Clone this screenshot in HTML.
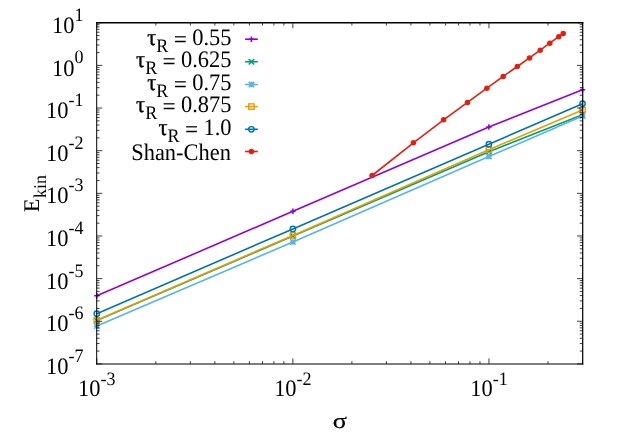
<!DOCTYPE html>
<html><head><meta charset="utf-8"><title>plot</title>
<style>
html,body{margin:0;padding:0;background:#fff;}
body{width:623px;height:436px;overflow:hidden;}
svg{display:block;will-change:transform;}
text{font-family:"Liberation Serif",serif;fill:#000;text-rendering:geometricPrecision;}
</style></head><body>
<svg width="623" height="436" viewBox="0 0 623 436">
<rect x="0" y="0" width="623" height="436" fill="#ffffff"/>
<g stroke-linejoin="round" stroke-linecap="butt">
<polyline points="96.80,295.80 292.90,211.30 488.90,127.00 582.50,89.70" fill="none" stroke="#9400d3" stroke-width="1.60"/>
<path d="M94.10 295.80H99.50M96.80 293.10V298.50" stroke="#9400d3" stroke-width="1.60" fill="none"/>
<path d="M290.20 211.30H295.60M292.90 208.60V214.00" stroke="#9400d3" stroke-width="1.60" fill="none"/>
<path d="M486.20 127.00H491.60M488.90 124.30V129.70" stroke="#9400d3" stroke-width="1.60" fill="none"/>
<path d="M579.80 89.70H585.20M582.50 87.00V92.40" stroke="#9400d3" stroke-width="1.60" fill="none"/>
<polyline points="96.80,320.40 292.90,236.10 488.90,151.80 582.50,114.70" fill="none" stroke="#009e73" stroke-width="1.60"/>
<path d="M94.10 317.70L99.50 323.10M94.10 323.10L99.50 317.70" stroke="#009e73" stroke-width="1.60" fill="none"/>
<path d="M290.20 233.40L295.60 238.80M290.20 238.80L295.60 233.40" stroke="#009e73" stroke-width="1.60" fill="none"/>
<path d="M486.20 149.10L491.60 154.50M486.20 154.50L491.60 149.10" stroke="#009e73" stroke-width="1.60" fill="none"/>
<path d="M579.80 112.00L585.20 117.40M579.80 117.40L585.20 112.00" stroke="#009e73" stroke-width="1.60" fill="none"/>
<polyline points="96.80,326.10 292.90,242.00 488.90,156.60 582.50,116.10" fill="none" stroke="#56b4e9" stroke-width="1.60"/>
<path d="M94.10 323.40L99.50 328.80M94.10 328.80L99.50 323.40M94.10 326.10H99.50M96.80 323.40V328.80" stroke="#56b4e9" stroke-width="1.60" fill="none"/>
<path d="M290.20 239.30L295.60 244.70M290.20 244.70L295.60 239.30M290.20 242.00H295.60M292.90 239.30V244.70" stroke="#56b4e9" stroke-width="1.60" fill="none"/>
<path d="M486.20 153.90L491.60 159.30M486.20 159.30L491.60 153.90M486.20 156.60H491.60M488.90 153.90V159.30" stroke="#56b4e9" stroke-width="1.60" fill="none"/>
<path d="M579.80 113.40L585.20 118.80M579.80 118.80L585.20 113.40M579.80 116.10H585.20M582.50 113.40V118.80" stroke="#56b4e9" stroke-width="1.60" fill="none"/>
<polyline points="96.80,320.30 292.90,235.40 488.90,149.70 582.50,109.90" fill="none" stroke="#e69f00" stroke-width="1.60"/>
<rect x="94.10" y="317.60" width="5.40" height="5.40" stroke="#e69f00" stroke-width="1.40" fill="none"/>
<rect x="290.20" y="232.70" width="5.40" height="5.40" stroke="#e69f00" stroke-width="1.40" fill="none"/>
<rect x="486.20" y="147.00" width="5.40" height="5.40" stroke="#e69f00" stroke-width="1.40" fill="none"/>
<rect x="579.80" y="107.20" width="5.40" height="5.40" stroke="#e69f00" stroke-width="1.40" fill="none"/>
<polyline points="96.80,313.70 292.90,228.90 488.90,144.20 582.50,103.70" fill="none" stroke="#0072b2" stroke-width="1.60"/>
<circle cx="96.80" cy="313.70" r="2.7" stroke="#0072b2" stroke-width="1.40" fill="none"/>
<circle cx="292.90" cy="228.90" r="2.7" stroke="#0072b2" stroke-width="1.40" fill="none"/>
<circle cx="488.90" cy="144.20" r="2.7" stroke="#0072b2" stroke-width="1.40" fill="none"/>
<circle cx="582.50" cy="103.70" r="2.7" stroke="#0072b2" stroke-width="1.40" fill="none"/>
<polyline points="372.10,175.50 413.40,142.80 443.60,119.80 467.50,102.40 486.90,88.20 503.20,76.40 517.30,66.50 529.50,57.90 540.20,50.20 549.80,43.20 558.80,36.70 563.20,33.50" fill="none" stroke="#e51e10" stroke-width="1.60"/>
<circle cx="372.10" cy="175.50" r="2.75" fill="#e51e10"/>
<circle cx="413.40" cy="142.80" r="2.75" fill="#e51e10"/>
<circle cx="443.60" cy="119.80" r="2.75" fill="#e51e10"/>
<circle cx="467.50" cy="102.40" r="2.75" fill="#e51e10"/>
<circle cx="486.90" cy="88.20" r="2.75" fill="#e51e10"/>
<circle cx="503.20" cy="76.40" r="2.75" fill="#e51e10"/>
<circle cx="517.30" cy="66.50" r="2.75" fill="#e51e10"/>
<circle cx="529.50" cy="57.90" r="2.75" fill="#e51e10"/>
<circle cx="540.20" cy="50.20" r="2.75" fill="#e51e10"/>
<circle cx="549.80" cy="43.20" r="2.75" fill="#e51e10"/>
<circle cx="558.80" cy="36.70" r="2.75" fill="#e51e10"/>
<circle cx="563.20" cy="33.50" r="2.75" fill="#e51e10"/>
</g>
<g>
<path d="M245.10 39.20H257.80" stroke="#9400d3" stroke-width="1.60" fill="none"/>
<path d="M248.75 39.20H254.15M251.45 36.50V41.90" stroke="#9400d3" stroke-width="1.60" fill="none"/>
<text transform="translate(231.50,44.90) scale(1.000,1.055)" font-size="22.45" text-anchor="end"><tspan stroke="#000" stroke-width="0.35">τ</tspan><tspan font-size="18.00" dy="6.35">R</tspan><tspan dy="-4.83" stroke="#000" stroke-width="0.3"> = </tspan><tspan dy="-1.52">0.55</tspan></text>
<path d="M245.10 61.75H257.80" stroke="#009e73" stroke-width="1.60" fill="none"/>
<path d="M248.75 59.05L254.15 64.45M248.75 64.45L254.15 59.05" stroke="#009e73" stroke-width="1.60" fill="none"/>
<text transform="translate(231.50,67.45) scale(1.000,1.055)" font-size="22.45" text-anchor="end"><tspan stroke="#000" stroke-width="0.35">τ</tspan><tspan font-size="18.00" dy="6.35">R</tspan><tspan dy="-4.83" stroke="#000" stroke-width="0.3"> = </tspan><tspan dy="-1.52">0.625</tspan></text>
<path d="M245.10 84.50H257.80" stroke="#56b4e9" stroke-width="1.60" fill="none"/>
<path d="M248.75 81.80L254.15 87.20M248.75 87.20L254.15 81.80M248.75 84.50H254.15M251.45 81.80V87.20" stroke="#56b4e9" stroke-width="1.60" fill="none"/>
<text transform="translate(231.50,90.20) scale(1.000,1.055)" font-size="22.45" text-anchor="end"><tspan stroke="#000" stroke-width="0.35">τ</tspan><tspan font-size="18.00" dy="6.35">R</tspan><tspan dy="-4.83" stroke="#000" stroke-width="0.3"> = </tspan><tspan dy="-1.52">0.75</tspan></text>
<path d="M245.10 106.60H257.80" stroke="#e69f00" stroke-width="1.60" fill="none"/>
<rect x="248.75" y="103.90" width="5.40" height="5.40" stroke="#e69f00" stroke-width="1.40" fill="none"/>
<text transform="translate(231.50,112.30) scale(1.000,1.055)" font-size="22.45" text-anchor="end"><tspan stroke="#000" stroke-width="0.35">τ</tspan><tspan font-size="18.00" dy="6.35">R</tspan><tspan dy="-4.83" stroke="#000" stroke-width="0.3"> = </tspan><tspan dy="-1.52">0.875</tspan></text>
<path d="M245.10 129.30H257.80" stroke="#0072b2" stroke-width="1.60" fill="none"/>
<circle cx="251.45" cy="129.30" r="2.7" stroke="#0072b2" stroke-width="1.40" fill="none"/>
<text transform="translate(231.50,135.00) scale(1.000,1.055)" font-size="22.45" text-anchor="end"><tspan stroke="#000" stroke-width="0.35">τ</tspan><tspan font-size="18.00" dy="6.35">R</tspan><tspan dy="-4.83" stroke="#000" stroke-width="0.3"> = </tspan><tspan dy="-1.52">1.0</tspan></text>
<path d="M245.10 151.50H257.80" stroke="#e51e10" stroke-width="1.60" fill="none"/>
<circle cx="251.45" cy="151.50" r="2.75" fill="#e51e10"/>
<text transform="translate(230.90,159.50) scale(1.000,1.055)" font-size="22.45" text-anchor="end">Shan-Chen</text>
</g>
<path d="M96.80 363.90h5.50M582.50 363.90h-5.50M96.80 351.06h2.75M582.50 351.06h-2.75M96.80 343.55h2.75M582.50 343.55h-2.75M96.80 338.23h2.75M582.50 338.23h-2.75M96.80 334.09h2.75M582.50 334.09h-2.75M96.80 330.72h2.75M582.50 330.72h-2.75M96.80 327.86h2.75M582.50 327.86h-2.75M96.80 325.39h2.75M582.50 325.39h-2.75M96.80 323.21h2.75M582.50 323.21h-2.75M96.80 321.26h5.50M582.50 321.26h-5.50M96.80 308.42h2.75M582.50 308.42h-2.75M96.80 300.91h2.75M582.50 300.91h-2.75M96.80 295.58h2.75M582.50 295.58h-2.75M96.80 291.45h2.75M582.50 291.45h-2.75M96.80 288.07h2.75M582.50 288.07h-2.75M96.80 285.22h2.75M582.50 285.22h-2.75M96.80 282.75h2.75M582.50 282.75h-2.75M96.80 280.56h2.75M582.50 280.56h-2.75M96.80 278.61h5.50M582.50 278.61h-5.50M96.80 265.78h2.75M582.50 265.78h-2.75M96.80 258.27h2.75M582.50 258.27h-2.75M96.80 252.94h2.75M582.50 252.94h-2.75M96.80 248.81h2.75M582.50 248.81h-2.75M96.80 245.43h2.75M582.50 245.43h-2.75M96.80 242.57h2.75M582.50 242.57h-2.75M96.80 240.10h2.75M582.50 240.10h-2.75M96.80 237.92h2.75M582.50 237.92h-2.75M96.80 235.97h5.50M582.50 235.97h-5.50M96.80 223.13h2.75M582.50 223.13h-2.75M96.80 215.62h2.75M582.50 215.62h-2.75M96.80 210.29h2.75M582.50 210.29h-2.75M96.80 206.16h2.75M582.50 206.16h-2.75M96.80 202.79h2.75M582.50 202.79h-2.75M96.80 199.93h2.75M582.50 199.93h-2.75M96.80 197.46h2.75M582.50 197.46h-2.75M96.80 195.28h2.75M582.50 195.28h-2.75M96.80 193.32h5.50M582.50 193.32h-5.50M96.80 180.49h2.75M582.50 180.49h-2.75M96.80 172.98h2.75M582.50 172.98h-2.75M96.80 167.65h2.75M582.50 167.65h-2.75M96.80 163.52h2.75M582.50 163.52h-2.75M96.80 160.14h2.75M582.50 160.14h-2.75M96.80 157.29h2.75M582.50 157.29h-2.75M96.80 154.81h2.75M582.50 154.81h-2.75M96.80 152.63h2.75M582.50 152.63h-2.75M96.80 150.68h5.50M582.50 150.68h-5.50M96.80 137.84h2.75M582.50 137.84h-2.75M96.80 130.34h2.75M582.50 130.34h-2.75M96.80 125.01h2.75M582.50 125.01h-2.75M96.80 120.87h2.75M582.50 120.87h-2.75M96.80 117.50h2.75M582.50 117.50h-2.75M96.80 114.64h2.75M582.50 114.64h-2.75M96.80 112.17h2.75M582.50 112.17h-2.75M96.80 109.99h2.75M582.50 109.99h-2.75M96.80 108.04h5.50M582.50 108.04h-5.50M96.80 95.20h2.75M582.50 95.20h-2.75M96.80 87.69h2.75M582.50 87.69h-2.75M96.80 82.36h2.75M582.50 82.36h-2.75M96.80 78.23h2.75M582.50 78.23h-2.75M96.80 74.85h2.75M582.50 74.85h-2.75M96.80 72.00h2.75M582.50 72.00h-2.75M96.80 69.53h2.75M582.50 69.53h-2.75M96.80 67.35h2.75M582.50 67.35h-2.75M96.80 65.39h5.50M582.50 65.39h-5.50M96.80 52.56h2.75M582.50 52.56h-2.75M96.80 45.05h2.75M582.50 45.05h-2.75M96.80 39.72h2.75M582.50 39.72h-2.75M96.80 35.59h2.75M582.50 35.59h-2.75M96.80 32.21h2.75M582.50 32.21h-2.75M96.80 29.36h2.75M582.50 29.36h-2.75M96.80 26.88h2.75M582.50 26.88h-2.75M96.80 24.70h2.75M582.50 24.70h-2.75M96.80 22.75h5.50M582.50 22.75h-5.50M96.80 363.90v-5.50M96.80 22.75v5.50M155.82 363.90v-2.75M155.82 22.75v2.75M190.35 363.90v-2.75M190.35 22.75v2.75M214.85 363.90v-2.75M214.85 22.75v2.75M233.85 363.90v-2.75M233.85 22.75v2.75M249.38 363.90v-2.75M249.38 22.75v2.75M262.50 363.90v-2.75M262.50 22.75v2.75M273.87 363.90v-2.75M273.87 22.75v2.75M283.90 363.90v-2.75M283.90 22.75v2.75M292.87 363.90v-5.50M292.87 22.75v5.50M351.90 363.90v-2.75M351.90 22.75v2.75M386.43 363.90v-2.75M386.43 22.75v2.75M410.92 363.90v-2.75M410.92 22.75v2.75M429.92 363.90v-2.75M429.92 22.75v2.75M445.45 363.90v-2.75M445.45 22.75v2.75M458.58 363.90v-2.75M458.58 22.75v2.75M469.95 363.90v-2.75M469.95 22.75v2.75M479.98 363.90v-2.75M479.98 22.75v2.75M488.95 363.90v-5.50M488.95 22.75v5.50M547.97 363.90v-2.75M547.97 22.75v2.75M582.50 363.90v-2.75M582.50 22.75v2.75" stroke="#000" stroke-width="0.75" fill="none"/>
<g stroke="#000" fill="none"><path d="M96.70 22.1V364.56" stroke-width="1.0"/><path d="M582.70 22.1V364.56" stroke-width="1.22"/><path d="M96.2 22.78H583.3" stroke-width="1.36"/><path d="M96.2 364.0H583.3" stroke-width="1.12"/></g>
<text transform="translate(83.50,374.05) scale(1.000,1.055)" font-size="22.45" text-anchor="end">10<tspan font-size="18.00" dy="-11.56">-7</tspan></text>
<text transform="translate(83.50,331.41) scale(1.000,1.055)" font-size="22.45" text-anchor="end">10<tspan font-size="18.00" dy="-11.56">-6</tspan></text>
<text transform="translate(83.50,288.76) scale(1.000,1.055)" font-size="22.45" text-anchor="end">10<tspan font-size="18.00" dy="-11.56">-5</tspan></text>
<text transform="translate(83.50,246.12) scale(1.000,1.055)" font-size="22.45" text-anchor="end">10<tspan font-size="18.00" dy="-11.56">-4</tspan></text>
<text transform="translate(83.50,203.47) scale(1.000,1.055)" font-size="22.45" text-anchor="end">10<tspan font-size="18.00" dy="-11.56">-3</tspan></text>
<text transform="translate(83.50,160.83) scale(1.000,1.055)" font-size="22.45" text-anchor="end">10<tspan font-size="18.00" dy="-11.56">-2</tspan></text>
<text transform="translate(83.50,118.19) scale(1.000,1.055)" font-size="22.45" text-anchor="end">10<tspan font-size="18.00" dy="-11.56">-1</tspan></text>
<text transform="translate(83.50,75.54) scale(1.000,1.055)" font-size="22.45" text-anchor="end">10<tspan font-size="18.00" dy="-11.56">0</tspan></text>
<text transform="translate(83.50,32.90) scale(1.000,1.055)" font-size="22.45" text-anchor="end">10<tspan font-size="18.00" dy="-11.56">1</tspan></text>
<text transform="translate(96.80,396.35) scale(1.000,1.055)" font-size="22.45" text-anchor="middle">10<tspan font-size="18.00" dy="-11.00">-3</tspan></text>
<text transform="translate(292.87,396.35) scale(1.000,1.055)" font-size="22.45" text-anchor="middle">10<tspan font-size="18.00" dy="-11.00">-2</tspan></text>
<text transform="translate(488.95,396.35) scale(1.000,1.055)" font-size="22.45" text-anchor="middle">10<tspan font-size="18.00" dy="-11.00">-1</tspan></text>
<text transform="translate(339.8,428.3) scale(1.2,1.0)" font-size="21.8" text-anchor="middle" stroke="#000" stroke-width="0.25">σ</text>
<text transform="translate(39.3,212.3) rotate(-90)" font-size="22.45">E<tspan font-size="18.00" dy="6.7" dx="0.7">kin</tspan></text>
</svg>
</body></html>
